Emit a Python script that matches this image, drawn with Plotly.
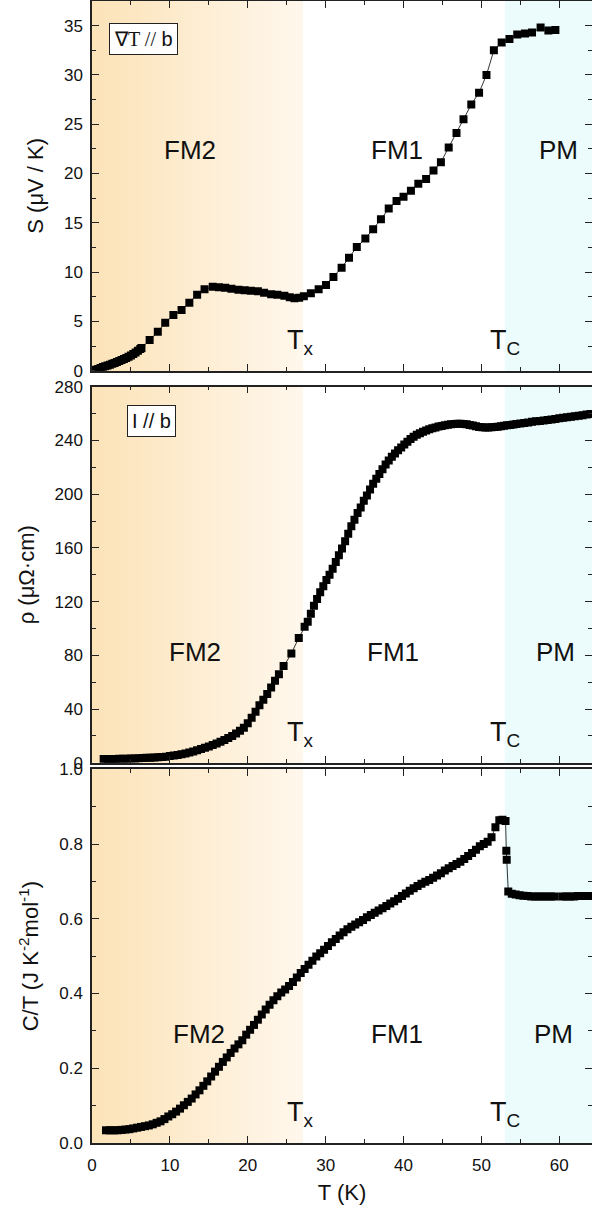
import plotly.graph_objects as go

# ---------------- data ----------------
T_S = [0.5, 0.8, 1.1, 1.4, 1.7, 2.0, 2.3, 2.6, 2.9, 3.2, 3.5, 3.8, 4.1, 4.4, 4.7, 5.0, 5.3, 5.6, 5.9, 6.2,
       6.35, 7.4, 8.45, 9.4, 10.45, 11.5, 12.5, 13.5, 14.45, 15.5, 16.3, 17.1, 17.9, 18.8, 19.6, 20.4, 21.3,
       22.1, 23.0, 23.8, 24.7, 25.4, 26.0, 26.6, 27.2, 28.1, 29.1, 30.05, 31.0, 32.05, 33.0, 34.0, 35.1,
       36.1, 37.1, 38.1, 39.1, 40.0, 40.95, 41.9, 42.9, 43.85, 44.8, 45.8, 46.8, 47.7, 48.7, 49.7, 50.65,
       51.6, 52.6, 53.6, 54.6, 55.6, 56.5, 57.6, 58.6, 59.5]
S_vals = [0.10, 0.18, 0.27, 0.36, 0.45, 0.53, 0.61, 0.70, 0.79, 0.88, 0.98, 1.08, 1.18, 1.28, 1.40, 1.53, 1.68,
          1.84, 2.02, 2.20,
          2.30, 3.10, 3.95, 4.85, 5.65, 6.15, 6.90, 7.70, 8.25, 8.50, 8.45, 8.40, 8.30, 8.20, 8.15, 8.10, 8.05,
          7.90, 7.75, 7.70, 7.60, 7.45, 7.35, 7.40, 7.55, 7.85, 8.25, 8.70, 9.50, 10.45, 11.45, 12.55, 13.40,
          14.35, 15.35, 16.45, 17.20, 17.65, 18.25, 18.95, 19.45, 20.30, 21.15, 22.65, 24.10, 25.50, 27.00,
          28.20, 30.00, 32.50, 33.30, 33.65, 34.10, 34.20, 34.30, 34.80, 34.50, 34.55]

T_rho = [1.5, 2.0, 2.5, 3.0, 3.5, 4.0, 4.5, 5.0, 5.5, 6.0, 6.5, 7.0, 7.5, 8.0, 8.5, 9.0, 9.5, 10.0, 10.5,
         11.0, 11.5, 12.0, 12.5, 13.0, 13.5, 14.0, 14.5, 15.0, 15.5, 16.0, 16.5, 17.0, 17.5, 18.0, 18.5,
         19.0, 19.5, 20.0, 20.5, 21.0, 21.5, 22.0, 22.5, 23.0, 23.5, 24.0,
         24.6, 25.6, 26.55, 27.3,
         27.7, 28.1, 28.5, 28.9, 29.3, 29.7, 30.1, 30.5, 30.9, 31.3, 31.7, 32.1, 32.5, 32.9, 33.3, 33.7,
         34.1, 34.5, 34.9, 35.3, 35.7, 36.1, 36.5, 36.9, 37.3, 37.7, 38.1, 38.5, 38.9, 39.3, 39.7, 40.1,
         40.5, 40.9, 41.3, 41.7, 42.1, 42.5, 42.9, 43.3, 43.7, 44.1, 44.5, 44.9, 45.3, 45.7, 46.1, 46.5,
         46.9, 47.3, 47.7, 48.1, 48.5, 48.9, 49.3, 49.7, 50.1, 50.5, 50.9, 51.3, 51.7, 52.1, 52.5, 52.9,
         53.3, 53.7, 54.1, 54.5, 55.0, 55.5, 56.0, 56.5, 57.0, 57.5, 58.0, 58.5, 59.0, 59.5, 60.0, 60.5,
         61.0, 61.5, 62.0, 62.5, 63.0, 63.5, 64.0]
rho_vals = [2.8, 2.8, 2.9, 2.9, 3.0, 3.0, 3.1, 3.2, 3.3, 3.4, 3.5, 3.7, 3.8, 4.0, 4.2, 4.4, 4.6, 5.0, 5.4,
            5.9, 6.4, 7.0, 7.7, 8.5, 9.4, 10.3, 11.2, 12.2, 13.3, 14.4, 15.6, 16.9, 18.4, 20.0, 21.8,
            23.8, 26.2, 29.5, 33.5, 38.0, 42.8, 47.0, 51.2, 56.0, 61.0, 66.0,
            72.0, 81.4, 93.0, 101.2,
            105.0, 111.0, 117.0, 122.0, 127.0, 131.5, 136.0, 140.0, 144.5, 149.5, 154.5, 159.5, 165.0, 170.5,
            176.0, 181.0, 186.0, 190.0, 195.0, 199.0, 203.5, 207.8, 211.5, 215.0, 218.5, 222.0, 225.0, 227.8,
            230.2, 232.6, 234.8, 237.0, 239.0, 241.0, 242.8, 244.2, 245.4, 246.4, 247.3, 248.2, 249.0, 249.6,
            250.3, 250.8, 251.3, 251.7, 252.0, 252.2, 252.3, 252.3, 252.2, 252.0, 251.5, 251.0, 250.5, 250.0,
            249.8, 249.6, 249.6, 249.7, 249.9, 250.2, 250.5, 250.9, 251.2, 251.5, 251.8, 252.2, 252.6, 253.0,
            253.4, 253.8, 254.2, 254.5, 254.8, 255.2, 255.6, 256.0, 256.4, 256.8, 257.2, 257.6, 258.0, 258.4,
            258.8, 259.3, 259.7]

T_C = [1.8, 2.3, 2.8, 3.3, 3.8, 4.3, 4.8, 5.3, 5.8, 6.3, 6.8, 7.3, 7.8, 8.3, 8.8, 9.3, 9.8, 10.3, 10.8,
       11.3, 11.8, 12.3, 12.8, 13.3, 13.8, 14.3, 14.8, 15.3, 15.8, 16.3, 16.8, 17.3, 17.8, 18.3, 18.8,
       19.3, 19.8, 20.3, 20.8, 21.3, 21.8, 22.3, 22.8, 23.3, 23.8, 24.3, 24.8, 25.3, 25.8, 26.3, 26.8,
       27.3, 27.8, 28.3, 28.8, 29.3, 29.8, 30.3, 30.8, 31.3, 31.8, 32.3, 32.8, 33.3, 33.8, 34.3, 34.8,
       35.3, 35.8, 36.3, 36.8, 37.3, 37.8, 38.3, 38.8, 39.3, 39.8, 40.3, 40.8, 41.3, 41.8, 42.3, 42.8,
       43.3, 43.8, 44.3, 44.8, 45.3, 45.8, 46.3, 46.8, 47.3, 47.8, 48.3, 48.8, 49.3, 49.8, 50.3, 50.8,
       51.3, 51.8, 52.3, 52.7, 53.1, 53.2, 53.25, 53.45, 53.9, 54.4, 54.9, 55.4, 55.9, 56.4, 56.9, 57.4,
       57.9, 58.4, 58.9, 59.4, 60.4, 60.9, 61.4, 61.9, 62.4, 62.9, 63.4, 63.9]
C_vals = [0.034, 0.034, 0.034, 0.034, 0.035, 0.036, 0.037, 0.039, 0.041, 0.043, 0.045, 0.047, 0.050, 0.054,
          0.058, 0.064, 0.071, 0.077, 0.084, 0.092, 0.101, 0.110, 0.119, 0.130, 0.141, 0.153, 0.165, 0.178,
          0.191, 0.204, 0.217, 0.229, 0.241, 0.253, 0.264, 0.275, 0.290, 0.303, 0.316, 0.330, 0.344, 0.357,
          0.370, 0.382, 0.393, 0.403, 0.411, 0.420, 0.431, 0.443, 0.455, 0.466, 0.477, 0.488, 0.499, 0.508,
          0.517, 0.527, 0.537, 0.546, 0.555, 0.564, 0.572, 0.579, 0.585, 0.591, 0.597, 0.604, 0.610, 0.616,
          0.622, 0.628, 0.634, 0.641, 0.647, 0.654, 0.661, 0.668, 0.675, 0.682, 0.688, 0.694, 0.699, 0.704,
          0.710, 0.716, 0.722, 0.729, 0.735, 0.741, 0.747, 0.753, 0.760, 0.768, 0.776, 0.785, 0.794, 0.800,
          0.806, 0.818, 0.845, 0.864, 0.865, 0.862, 0.782, 0.758, 0.673, 0.667, 0.665, 0.663, 0.662, 0.661,
          0.660, 0.660, 0.660, 0.660, 0.660, 0.660, 0.660, 0.660, 0.660, 0.660, 0.660, 0.661, 0.661, 0.661,
          0.661]

T_x = 27.0
T_c = 53.0
X_RANGE = [0, 64.2]

FONT = "Liberation Sans, Arial, sans-serif"

fig = go.Figure()

panels = [
    dict(x=T_S, y=S_vals, xa="x", ya="y"),
    dict(x=T_rho, y=rho_vals, xa="x2", ya="y2"),
    dict(x=T_C, y=C_vals, xa="x3", ya="y3"),
]
for p in panels:
    fig.add_trace(go.Scatter(
        x=p["x"], y=p["y"], xaxis=p["xa"], yaxis=p["ya"], mode="lines+markers",
        line=dict(color="black", width=0.8),
        marker=dict(symbol="square", size=8, color="black", line=dict(width=0)),
        showlegend=False, hoverinfo="skip"))

# ---- background phase regions (gradient drawn as overlapping strips) ----
shapes = []
N = 60
c0 = (252, 227, 184)
c1 = (255, 247, 236)
for ya in ["y", "y2", "y3"]:
    xa = ya.replace("y", "x")
    for i in range(N):
        f = i / (N - 1)
        col = tuple(round(c0[k] + (c1[k] - c0[k]) * f) for k in range(3))
        x0 = T_x * i / N
        shapes.append(dict(type="rect", xref=xa, yref=ya + " domain",
                           x0=x0, x1=T_x, y0=0, y1=1, line=dict(width=0),
                           fillcolor="rgb(%d,%d,%d)" % col, layer="below"))
    shapes.append(dict(type="rect", xref=xa, yref=ya + " domain",
                       x0=T_c, x1=X_RANGE[1] + 1, y0=0, y1=1, line=dict(width=0),
                       fillcolor="#ECFCFD", layer="below"))

# ---- annotations ----
ann = []
label_font = dict(family=FONT, size=26, color="#111111")
region_labels = [
    ("x", "y", 12.6, 22.4, 39.1, 59.9),
    ("x2", "y2", 13.2, 82.6, 38.7, 59.5),
    ("x3", "y3", 13.8, 0.293, 39.1, 59.3),
]
for xa, ya, xfm2, yl, xfm1, xpm in region_labels:
    ann.append(dict(xref=xa, yref=ya, x=xfm2, y=yl, text="FM2", showarrow=False, font=label_font))
    ann.append(dict(xref=xa, yref=ya, x=xfm1, y=yl, text="FM1", showarrow=False, font=label_font))
    ann.append(dict(xref=xa, yref=ya, x=xpm, y=yl, text="PM", showarrow=False, font=label_font))
    ann.append(dict(xref=xa, yref=ya + " domain", x=24.75, y=0, text="T<sub>x</sub>", showarrow=False,
                    xanchor="left", yanchor="bottom", yshift=10, font=dict(family=FONT, size=27, color="#111111")))
    ann.append(dict(xref=xa, yref=ya + " domain", x=50.9, y=0, text="T<sub>C</sub>", showarrow=False,
                    xanchor="left", yanchor="bottom", yshift=10, font=dict(family=FONT, size=27, color="#111111")))

ann.append(dict(xref="x", yref="y", x=6.57, y=33.6,
                text="<span style='font-family:Liberation Serif, Times New Roman, serif'>∇T //</span> b",
                showarrow=False, bgcolor="white", bordercolor="#222", borderwidth=1, borderpad=4,
                font=dict(family=FONT, size=20, color="#111")))
ann.append(dict(xref="x2", yref="y2", x=7.63, y=254.5, text="I // b",
                showarrow=False, bgcolor="white", bordercolor="#222", borderwidth=1, borderpad=4,
                font=dict(family=FONT, size=20, color="#111")))

tickfont = dict(family=FONT, size=17, color="#111")
titlefont = dict(family=FONT, size=22, color="#111")

def xax(anchor, show_labels):
    d = dict(anchor=anchor, range=X_RANGE, showline=True, linecolor="#222", linewidth=1.5,
             mirror="ticks", ticks="inside", ticklen=7, tickwidth=1.2, tickcolor="#222",
             tick0=0, dtick=10, showgrid=False, zeroline=False, automargin=False,
             minor=dict(ticks="inside", ticklen=4, dtick=5, tick0=0, tickcolor="#222", tickwidth=1),
             showticklabels=show_labels, tickfont=tickfont, ticklabelstandoff=6)
    if show_labels:
        d["title"] = dict(text="T (K)", font=titlefont, standoff=10)
    return d

def yax(domain, anchor, rng, dtick, minor, title, fmt=None):
    d = dict(domain=domain, anchor=anchor, range=rng, showline=True, linecolor="#222", linewidth=1.5,
             mirror="ticks", ticks="inside", ticklen=7, tickwidth=1.2, tickcolor="#222",
             tick0=0, dtick=dtick, showgrid=False, zeroline=False, automargin=False,
             minor=dict(ticks="inside", ticklen=4, dtick=minor, tick0=0, tickcolor="#222", tickwidth=1),
             tickfont=tickfont, ticklabelstandoff=4,
             title=dict(text=title, font=titlefont, standoff=14))
    if fmt:
        d["tickformat"] = fmt
    return d

fig.update_layout(
    width=592, height=1216,
    margin=dict(l=92, r=0, t=1, b=73),
    paper_bgcolor="white", plot_bgcolor="white",
    font=dict(family=FONT, color="#111"),
    xaxis=xax("y", False),
    xaxis2=xax("y2", False),
    xaxis3=xax("y3", True),
    yaxis=yax([0.6763, 1.0], "x", [0, 37.5], 5, 2.5, "S (μV / K)"),
    yaxis2=yax([0.3329, 0.6623], "x2", [0, 280], 40, 20, "ρ (μΩ·cm)"),
    yaxis3=yax([0, 0.3272], "x3", [0, 1.0], 0.2, 0.1, "C/T (J K<sup>-2</sup>mol<sup>-1</sup>)", ".1f"),
    shapes=shapes,
    annotations=ann,
)

fig.write_html("out.html", config={"displayModeBar": False},
               post_script="document.body.style.margin='0';document.body.style.overflow='hidden';")
